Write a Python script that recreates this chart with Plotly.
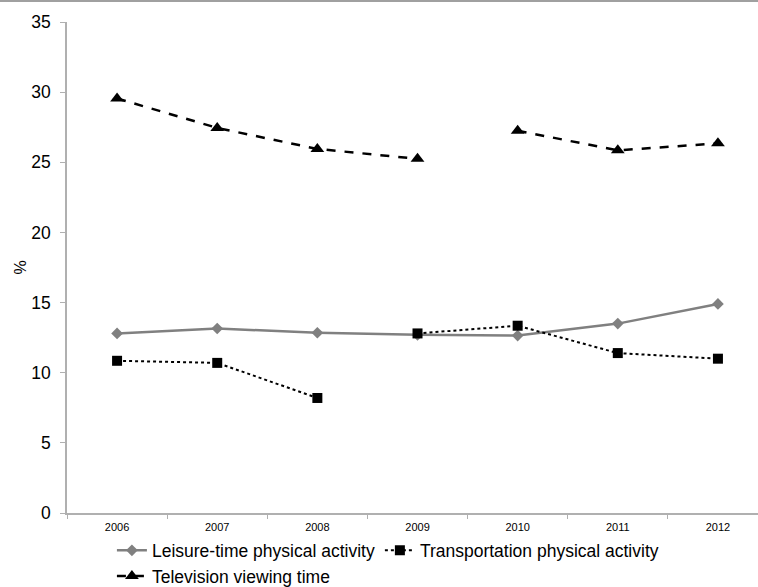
import plotly.graph_objects as go

years = ["2006", "2007", "2008", "2009", "2010", "2011", "2012"]
leisure = [12.8, 13.15, 12.85, 12.7, 12.65, 13.5, 14.9]
transport = [10.85, 10.7, 8.2, 12.8, 13.35, 11.4, 11.0]
television = [29.55, 27.45, 25.95, 25.25, 27.25, 25.85, 26.35]

# segments that are not connected in the original
transport_a = transport[:3] + [None] * 4
transport_b = [None] * 3 + transport[3:]
tv_a = television[:4] + [None] * 3
tv_b = [None] * 4 + television[4:]

fig = go.Figure()
fig.add_trace(go.Scatter(
    x=years, y=leisure, name="Leisure-time physical activity",
    mode="lines+markers",
    line=dict(color="#808080", width=2.5),
    marker=dict(symbol="diamond", size=9, color="#808080"),
))
fig.add_trace(go.Scatter(
    x=years, y=transport_a, name="Transportation physical activity",
    mode="lines+markers", legendgroup="t",
    line=dict(color="black", width=2, dash="dot"),
    marker=dict(symbol="square", size=10, color="black"),
))
fig.add_trace(go.Scatter(
    x=years, y=transport_b, name="Transportation physical activity",
    mode="lines+markers", legendgroup="t", showlegend=False,
    line=dict(color="black", width=2, dash="dot"),
    marker=dict(symbol="square", size=10, color="black"),
))
fig.add_trace(go.Scatter(
    x=years, y=tv_a, name="Television viewing time",
    mode="lines+markers", legendgroup="tv",
    line=dict(color="black", width=2.5, dash="dash"),
    marker=dict(symbol="triangle-up", size=12, color="black"),
))
fig.add_trace(go.Scatter(
    x=years, y=tv_b, name="Television viewing time",
    mode="lines+markers", legendgroup="tv", showlegend=False,
    line=dict(color="black", width=2.5, dash="dash"),
    marker=dict(symbol="triangle-up", size=12, color="black"),
))

fig.update_layout(
    width=758, height=587,
    margin=dict(l=67, r=0, t=22, b=74, autoexpand=False),
    plot_bgcolor="white", paper_bgcolor="white",
    font=dict(family="Liberation Sans, Arial, sans-serif", color="black"),
    showlegend=True,
    legend=dict(
        orientation="h", x=0.065, xanchor="left",
        yref="container", y=0.093, yanchor="top",
        font=dict(size=17.5), tracegroupgap=0, itemwidth=30,
        bgcolor="rgba(0,0,0,0)",
    ),
    xaxis=dict(
        type="category", categoryorder="array", categoryarray=years,
        range=[-0.5, 6.4], tickson="boundaries",
        showline=True, linecolor="#b0b0b0", linewidth=1.5,
        ticks="outside", ticklen=4, tickcolor="#b0b0b0",
        showgrid=False, zeroline=False, ticklabelstandoff=3,
        tickfont=dict(size=11, family="Liberation Sans Narrow, Liberation Sans, Arial"),
        fixedrange=True,
    ),
    yaxis=dict(
        range=[0, 35], dtick=5,
        showline=True, linecolor="#b0b0b0", linewidth=1.5,
        ticks="outside", ticklen=5, tickcolor="#b0b0b0",
        showgrid=False, zeroline=False, ticklabelstandoff=6,
        tickfont=dict(size=17.5),
        title=dict(text="%", font=dict(size=16), standoff=1),
        automargin=False,
    ),
    shapes=[dict(
        type="line", xref="paper", yref="paper",
        x0=-0.2, x1=1.1, y0=1.0428, y1=1.0428,
        line=dict(color="#a0a0a0", width=2),
    )],
)

fig.write_html("out.html", config={"displayModeBar": False},
               post_script="document.body.style.margin='0';")
